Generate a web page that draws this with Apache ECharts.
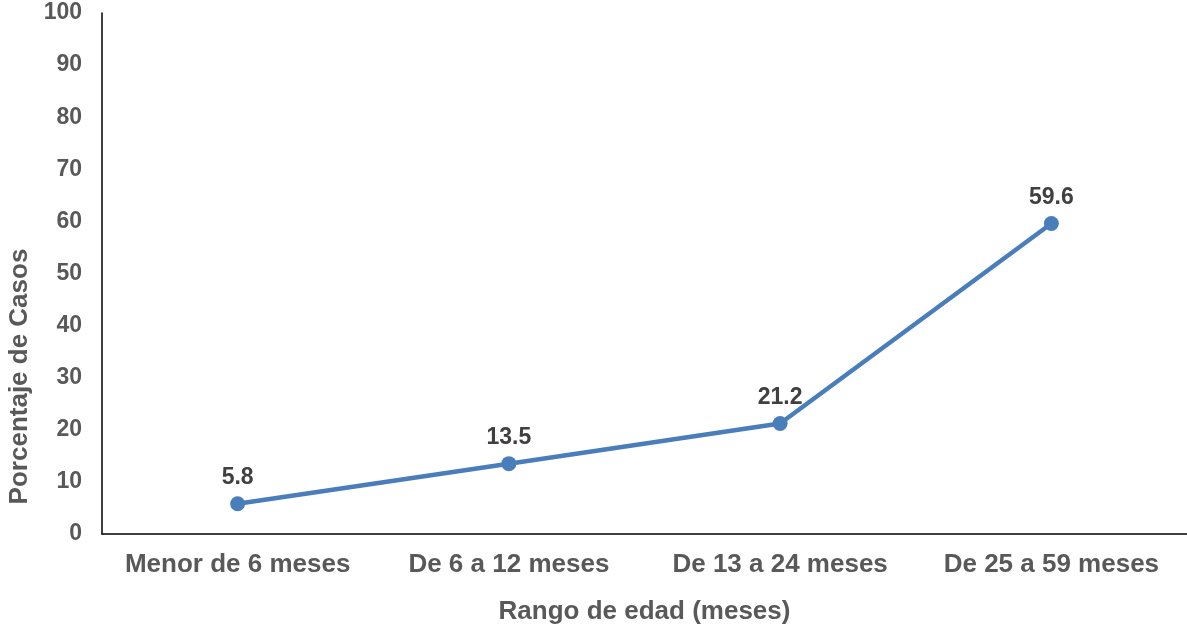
<!DOCTYPE html>
<html>
<head>
<meta charset="utf-8">
<script src="https://cdn.jsdelivr.net/npm/echarts@6/dist/echarts.min.js"></script>
<style>
  html, body { margin: 0; padding: 0; background: #fff; }
  #chart { width: 1187px; height: 628px; }
</style>
</head>
<body>
<div id="chart"></div>
<script>
  // rangos de edad y porcentaje de casos
  var categories = ['Menor de 6 meses', 'De 6 a 12 meses', 'De 13 a 24 meses', 'De 25 a 59 meses']
  var porcentaje = [5.8, 13.5, 21.2, 59.6]
  var yTicks = [0, 10, 20, 30, 40, 50, 60, 70, 80, 90, 100]

  var font = 'Liberation Sans, Arial, sans-serif'
  var chart = echarts.init(document.getElementById('chart'))
  chart.setOption({
    animation: false,
    grid: { left: 102, right: 0, top: 13, bottom: 94, outerBoundsMode: 'none', containLabel: false },
    xAxis: {
      type: 'category',
      data: categories,
      boundaryGap: true,
      name: 'Rango de edad (meses)',
      nameLocation: 'middle',
      nameGap: 65,
      nameTextStyle: { color: '#595959', fontSize: 26, fontWeight: 'bold', fontFamily: font },
      axisLine: { lineStyle: { color: '#000', width: 1.5 } },
      axisTick: { show: false },
      axisLabel: { interval: 0, color: '#595959', fontSize: 26, fontWeight: 'bold', fontFamily: font, margin: 18 }
    },
    yAxis: {
      type: 'value',
      min: yTicks[0],
      max: yTicks[yTicks.length - 1],
      interval: 10,
      name: 'Porcentaje de Casos',
      nameLocation: 'middle',
      nameGap: 69,
      // el título del eje está desplazado hacia abajo en el original
      nameTextStyle: { color: '#595959', fontSize: 26, fontWeight: 'bold', fontFamily: font, padding: [0, 206, 0, 0] },
      axisLine: { show: true, lineStyle: { color: '#000', width: 1.5 } },
      axisTick: { show: false },
      splitLine: { show: false },
      axisLabel: { color: '#595959', fontSize: 23, fontWeight: 'bold', fontFamily: font, margin: 20 }
    },
    series: [{
      type: 'line',
      data: porcentaje,
      symbol: 'circle',
      symbolSize: 15,
      itemStyle: { color: '#4a7ebb' },
      lineStyle: { color: '#4a7ebb', width: 4.5 },
      label: {
        show: true,
        position: 'top',
        distance: 7,
        color: '#404040',
        fontSize: 23,
        fontWeight: 'bold',
        fontFamily: font
      }
    }]
  })
</script>
</body>
</html>
